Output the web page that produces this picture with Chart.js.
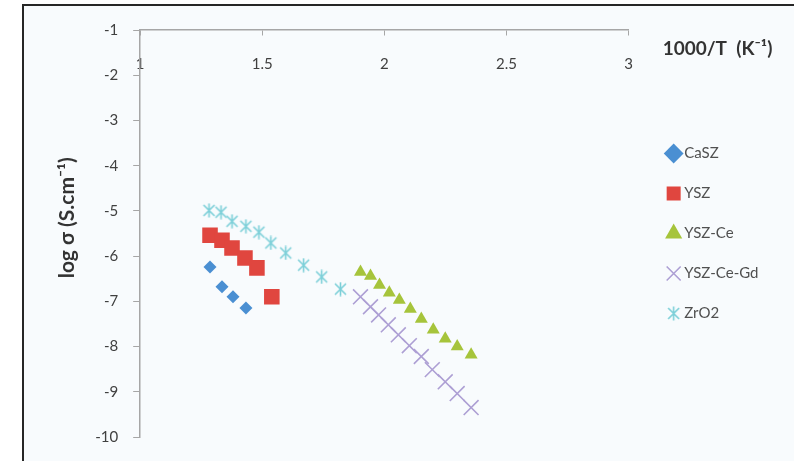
<!DOCTYPE html>
<html>
<head>
<meta charset="utf-8">
<script src="https://cdn.jsdelivr.net/npm/chart.js@4"></script>
<style>
  html, body { margin: 0; padding: 0; background: #fff; overflow: hidden; }
  #frame {
    position: absolute; left: 22px; top: 4px;
    width: 772px; height: 457px;
    border-left: 2px solid #262626; border-top: 2px solid #262626;
    background: #f8fbfd;
  }
  canvas { display: block; }
</style>
</head>
<body>
<div id="frame"><canvas id="chart" width="770" height="455"></canvas></div>
<script>
// values
const caszX = [1.286, 1.335, 1.380, 1.433];
const caszY = [-6.24, -6.68, -6.90, -7.15];

const yszX = [1.286, 1.335, 1.376, 1.429, 1.478, 1.539];
const yszY = [-5.54, -5.65, -5.82, -6.04, -6.26, -6.90];

const yszCeX = [1.902, 1.943, 1.980, 2.020, 2.061, 2.106, 2.151, 2.200, 2.249, 2.298, 2.355];
const yszCeY = [-6.35, -6.44, -6.64, -6.81, -6.97, -7.17, -7.39, -7.63, -7.83, -8.00, -8.18];

const yszCeGdX = [1.902, 1.943, 1.976, 2.016, 2.057, 2.102, 2.151, 2.196, 2.249, 2.298, 2.355];
const yszCeGdY = [-6.90, -7.12, -7.30, -7.52, -7.74, -7.98, -8.22, -8.51, -8.78, -9.04, -9.35];

const zro2X = [1.282, 1.331, 1.376, 1.433, 1.486, 1.535, 1.596, 1.669, 1.743, 1.820];
const zro2Y = [-4.99, -5.03, -5.23, -5.34, -5.47, -5.71, -5.93, -6.20, -6.46, -6.73];

const seriesNames = ['CaSZ', 'YSZ', 'YSZ-Ce', 'YSZ-Ce-Gd', 'ZrO2'];
const xTitle = '1000/T  (K\u207B\u00B9)';
// leading em spaces nudge the rotated title up a little, as in the original
const yTitle = '\u2003\u2003log \u03C3 (S.cm\u207B\u00B9)';

const pts = (xs, ys) => xs.map((x, i) => ({x: x, y: ys[i]}));

const txt = '#404040';
const fontFam = "Lato, 'Open Sans', sans-serif";

// excel style asterisk: an X with a vertical bar
function starMarker(col) {
  const c = document.createElement('canvas');
  c.width = 15; c.height = 15;
  const g = c.getContext('2d');
  g.strokeStyle = col;
  g.lineWidth = 1.6;
  g.beginPath();
  g.moveTo(2, 2); g.lineTo(13, 13);
  g.moveTo(13, 2); g.lineTo(2, 13);
  g.moveTo(7.5, 0.5); g.lineTo(7.5, 14.5);
  g.stroke();
  return c;
}

// axis title sitting right of the top axis
const xTitlePlugin = {
  id: 'xTitle',
  afterDraw(chart) {
    const ctx = chart.ctx;
    const a = chart.chartArea;
    ctx.save();
    ctx.font = 'bold 19px ' + fontFam;
    ctx.fillStyle = '#333';
    ctx.textBaseline = 'middle';
    ctx.textAlign = 'left';
    ctx.fillText(xTitle, a.right + 34, a.top + 19);
    ctx.restore();
  }
};

Chart.defaults.font.family = fontFam;
Chart.defaults.font.size = 15;
Chart.defaults.color = txt;

new Chart(document.getElementById('chart'), {
  type: 'scatter',
  data: {
    datasets: [
      { label: seriesNames[0], data: pts(caszX, caszY), pointStyle: 'rectRot', pointRadius: 6.5,
        backgroundColor: '#4a8fd2', borderColor: '#4a8fd2', borderWidth: 0 },
      { label: seriesNames[1], data: pts(yszX, yszY), pointStyle: 'rect', pointRadius: 11,
        backgroundColor: '#e0463f', borderColor: '#e0463f', borderWidth: 0 },
      { label: seriesNames[2], data: pts(yszCeX, yszCeY), pointStyle: 'triangle', pointRadius: 7.5,
        backgroundColor: '#a6c43b', borderColor: '#a6c43b', borderWidth: 0 },
      { label: seriesNames[3], data: pts(yszCeGdX, yszCeGdY), pointStyle: 'crossRot', pointRadius: 10.5,
        backgroundColor: '#ad9fd4', borderColor: '#ad9fd4', borderWidth: 1.6 },
      { label: seriesNames[4], data: pts(zro2X, zro2Y), pointStyle: starMarker('#7ccfd8'),
        backgroundColor: '#7ccfd8', borderColor: '#7ccfd8' }
    ]
  },
  options: {
    responsive: false,
    devicePixelRatio: 1,
    animation: false,
    layout: { padding: { left: 25, top: 14, bottom: 14, right: 29 } },
    plugins: {
      tooltip: { enabled: false },
      legend: {
        position: 'right',
        labels: {
          usePointStyle: true,
          boxWidth: 6,
          boxHeight: 14,
          padding: 25,
          color: '#505050',
          font: { size: 15 }
        }
      }
    },
    scales: {
      x: {
        type: 'linear',
        position: { y: -1 },
        min: 1, max: 3,
        grid: { display: true, drawOnChartArea: false, drawTicks: true, tickLength: 5, color: '#a6a6a6' },
        border: { display: true, color: '#a6a6a6', width: 1.5 },
        ticks: { stepSize: 0.5, padding: 20, color: txt, callback: v => String(Number(v)) }
      },
      y: {
        type: 'linear',
        position: 'left',
        min: -10, max: -1,
        grid: { display: true, drawOnChartArea: false, drawTicks: true, tickLength: 7, color: '#a6a6a6' },
        border: { display: true, color: '#a6a6a6', width: 1.5 },
        ticks: { stepSize: 1, padding: 15, color: txt },
        title: { display: true, text: yTitle, color: '#333', font: { size: 21, weight: 'bold' },
                 padding: { top: 6, bottom: 0 } }
      },
      // empty strip between plot and legend
      gap: {
        type: 'linear',
        axis: 'y',
        position: 'right',
        grid: { display: false },
        border: { display: false },
        ticks: { display: false },
        afterFit: s => { s.width = 17; }
      }
    }
  },
  plugins: [xTitlePlugin]
});
</script>
</body>
</html>
